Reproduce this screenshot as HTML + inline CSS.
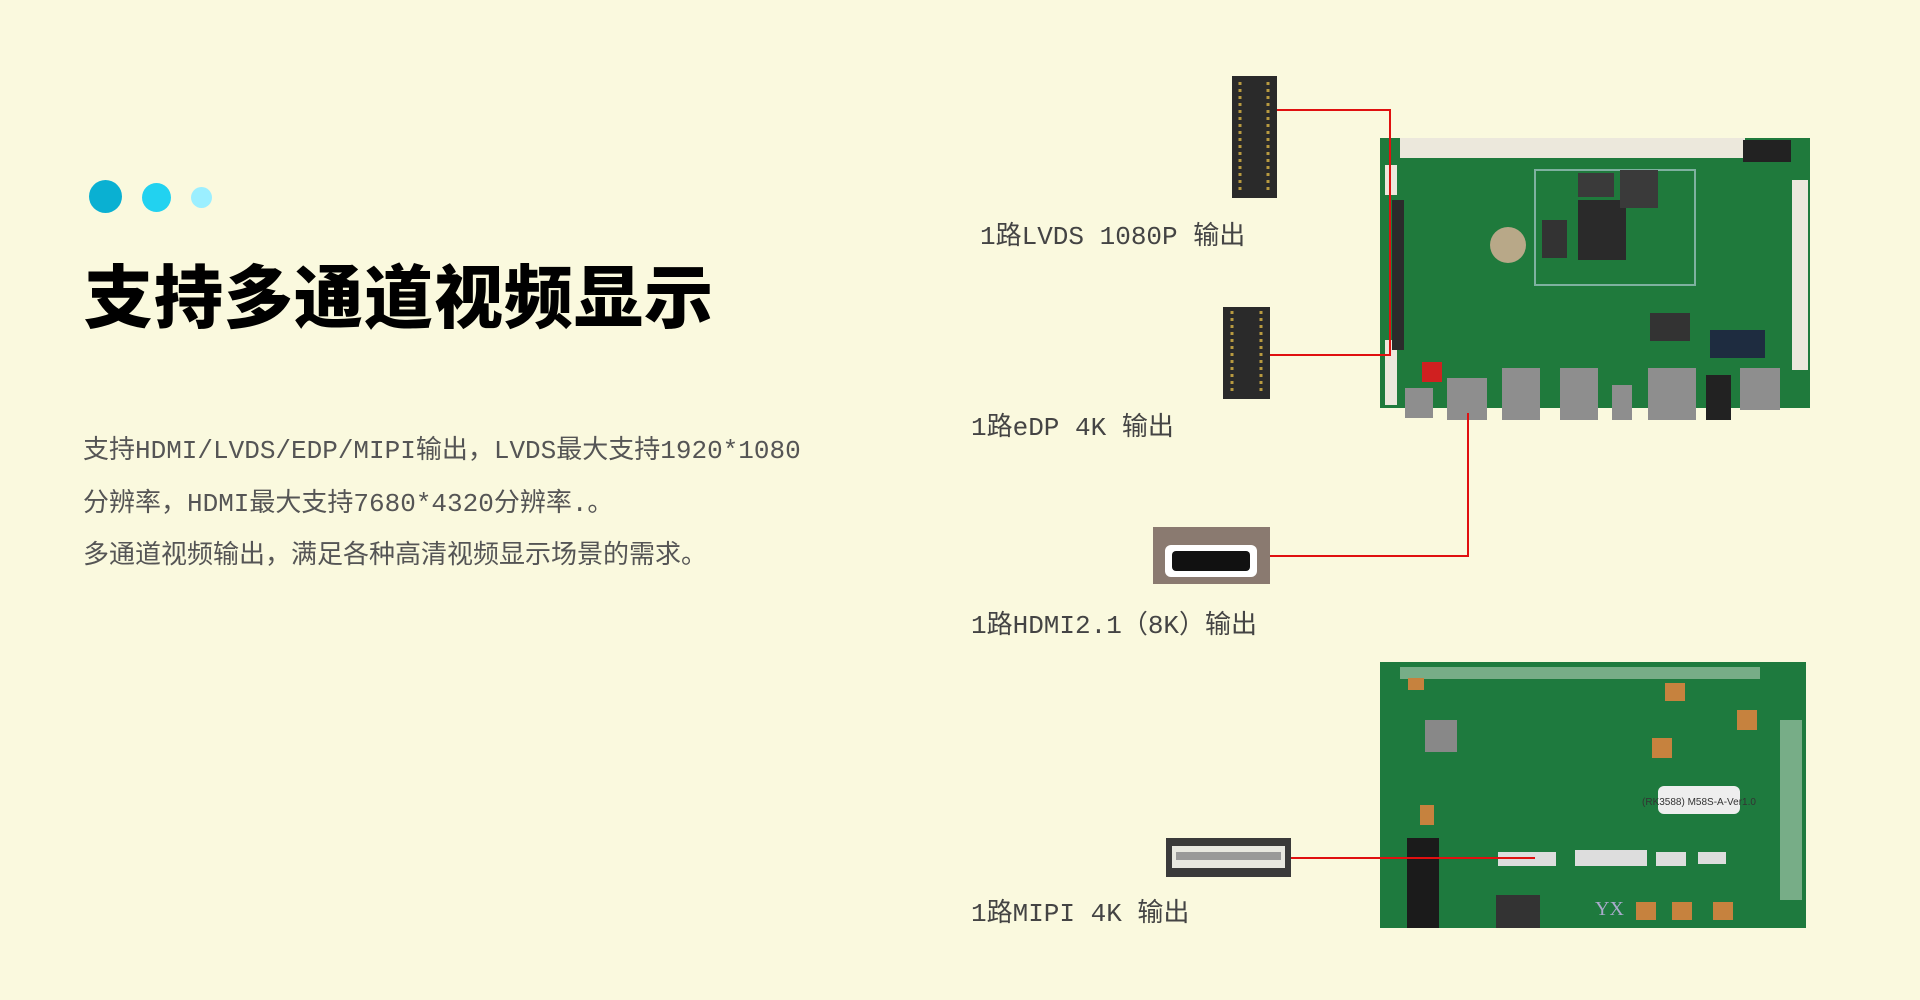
<!DOCTYPE html>
<html><head><meta charset="utf-8"><style>
html,body{margin:0;padding:0;width:1920px;height:1000px;overflow:hidden;background:#faf9de;}
body{position:relative;font-family:"Liberation Sans","Noto Sans CJK SC",sans-serif;}
.dot{position:absolute;border-radius:50%;}
h1{position:absolute;left:84px;top:242px;margin:0;font-size:69px;font-weight:900;color:#000;letter-spacing:1px;font-family:"Liberation Sans","Noto Sans CJK SC",sans-serif;white-space:nowrap;}
.p{position:absolute;left:83px;font-size:26px;color:#555;white-space:nowrap;font-family:"Liberation Mono","Noto Sans CJK SC",monospace;}
.lb{position:absolute;font-size:26px;color:#444;white-space:nowrap;font-family:"Liberation Mono","Noto Sans CJK SC",monospace;}
svg{position:absolute;left:0;top:0;}
</style></head><body>
<div class="dot" style="left:89px;top:180px;width:33px;height:33px;background:#0ab0d2"></div>
<div class="dot" style="left:142px;top:183px;width:29px;height:29px;background:#22d2f0"></div>
<div class="dot" style="left:191px;top:187px;width:21px;height:21px;background:#9befff"></div>
<h1>支持多通道视频显示</h1>
<div class="p" style="top:429px">支持HDMI/LVDS/EDP/MIPI输出，LVDS最大支持1920*1080</div>
<div class="p" style="top:482px">分辨率，HDMI最大支持7680*4320分辨率.。</div>
<div class="p" style="top:534px">多通道视频输出，满足各种高清视频显示场景的需求。</div>

<div class="lb" style="left:980px;top:215px">1路LVDS 1080P 输出</div>
<div class="lb" style="left:971px;top:406px">1路eDP 4K 输出</div>
<div class="lb" style="left:971px;top:604px">1路HDMI2.1（8K）输出</div>
<div class="lb" style="left:971px;top:892px">1路MIPI 4K 输出</div>

<svg width="1920" height="1000" viewBox="0 0 1920 1000">
<rect x="1380" y="138" width="430" height="270" fill="#1f7a3c"/>
<g fill="#ece8dc">
<rect x="1400" y="138" width="345" height="20"/>
<rect x="1385" y="165" width="12" height="30"/>
<rect x="1385" y="340" width="12" height="65"/>
<rect x="1792" y="180" width="16" height="190"/>
</g>
<rect x="1743" y="140" width="48" height="22" fill="#222"/>
<rect x="1392" y="200" width="12" height="150" fill="#2b2b2b"/>
<rect x="1535" y="170" width="160" height="115" fill="none" stroke="#7fb1a0" stroke-width="2"/>
<rect x="1578" y="200" width="48" height="60" fill="#2a2a2a"/>
<rect x="1620" y="170" width="38" height="38" fill="#3a3a3a"/>
<rect x="1578" y="173" width="36" height="24" fill="#3a3a3a"/>
<circle cx="1508" cy="245" r="18" fill="#b8a888"/>
<rect x="1542" y="220" width="25" height="38" fill="#333"/>
<rect x="1650" y="313" width="40" height="28" fill="#333"/>
<rect x="1710" y="330" width="55" height="28" fill="#1e2c40"/>
<rect x="1422" y="362" width="20" height="20" fill="#d02020"/>
<g fill="#8e8e8e">
<rect x="1405" y="388" width="28" height="30"/>
<rect x="1447" y="378" width="40" height="42"/>
<rect x="1502" y="368" width="38" height="52"/>
<rect x="1560" y="368" width="38" height="52"/>
<rect x="1612" y="385" width="20" height="35"/>
<rect x="1648" y="368" width="48" height="52"/>
<rect x="1740" y="368" width="40" height="42"/>
</g>
<rect x="1706" y="375" width="25" height="45" fill="#222"/>
<rect x="1380" y="662" width="426" height="266" fill="#1e7a3e"/>
<g fill="#cfe0cf" opacity="0.5"><rect x="1400" y="667" width="360" height="12"/><rect x="1780" y="720" width="22" height="180"/></g>
<g fill="#c6823e"><rect x="1408" y="678" width="16" height="12"/><rect x="1665" y="683" width="20" height="18"/><rect x="1737" y="710" width="20" height="20"/><rect x="1652" y="738" width="20" height="20"/><rect x="1636" y="902" width="20" height="18"/><rect x="1672" y="902" width="20" height="18"/><rect x="1713" y="902" width="20" height="18"/><rect x="1420" y="805" width="14" height="20"/></g>
<rect x="1425" y="720" width="32" height="32" fill="#888"/>
<rect x="1658" y="786" width="82" height="28" rx="6" fill="#eee"/>
<text x="1699" y="805" font-size="10" fill="#333" text-anchor="middle" font-family="Liberation Sans">(RK3588) M58S-A-Ver1.0</text>
<rect x="1407" y="838" width="32" height="90" fill="#1b1b1b"/>
<rect x="1498" y="852" width="58" height="14" fill="#ddd"/>
<rect x="1575" y="850" width="72" height="16" fill="#ddd"/>
<rect x="1656" y="852" width="30" height="14" fill="#ddd"/>
<rect x="1698" y="852" width="28" height="12" fill="#ddd"/>
<rect x="1496" y="895" width="44" height="33" fill="#333"/>
<text x="1595" y="915" font-size="20" fill="#aac" font-family="Liberation Serif">YX</text>
<rect x="1232" y="76" width="45" height="122" fill="#2a2a2a"/>
<g stroke="#b89a40" stroke-width="3"><line x1="1240" y1="82" x2="1240" y2="194" stroke-dasharray="3 4"/><line x1="1268" y1="82" x2="1268" y2="194" stroke-dasharray="3 4"/></g>
<rect x="1223" y="307" width="47" height="92" fill="#2a2a2a"/>
<g stroke="#b89a40" stroke-width="3"><line x1="1232" y1="311" x2="1232" y2="395" stroke-dasharray="3 4"/><line x1="1261" y1="311" x2="1261" y2="395" stroke-dasharray="3 4"/></g>
<rect x="1153" y="527" width="117" height="57" fill="#8a7a70"/>
<rect x="1165" y="545" width="92" height="32" rx="6" fill="#fff"/>
<rect x="1172" y="551" width="78" height="20" rx="4" fill="#111"/>
<rect x="1166" y="838" width="125" height="39" fill="#3a3a3a"/>
<rect x="1172" y="846" width="113" height="22" fill="#e8e8e0"/>
<rect x="1176" y="852" width="105" height="8" fill="#999"/>
<g stroke="#e01010" stroke-width="2" fill="none">
<polyline points="1277,110 1390,110 1390,355 1270,355"/>
<polyline points="1270,556 1468,556 1468,413"/>
<polyline points="1291,858 1535,858"/>
</g>
</svg>
</body></html>
